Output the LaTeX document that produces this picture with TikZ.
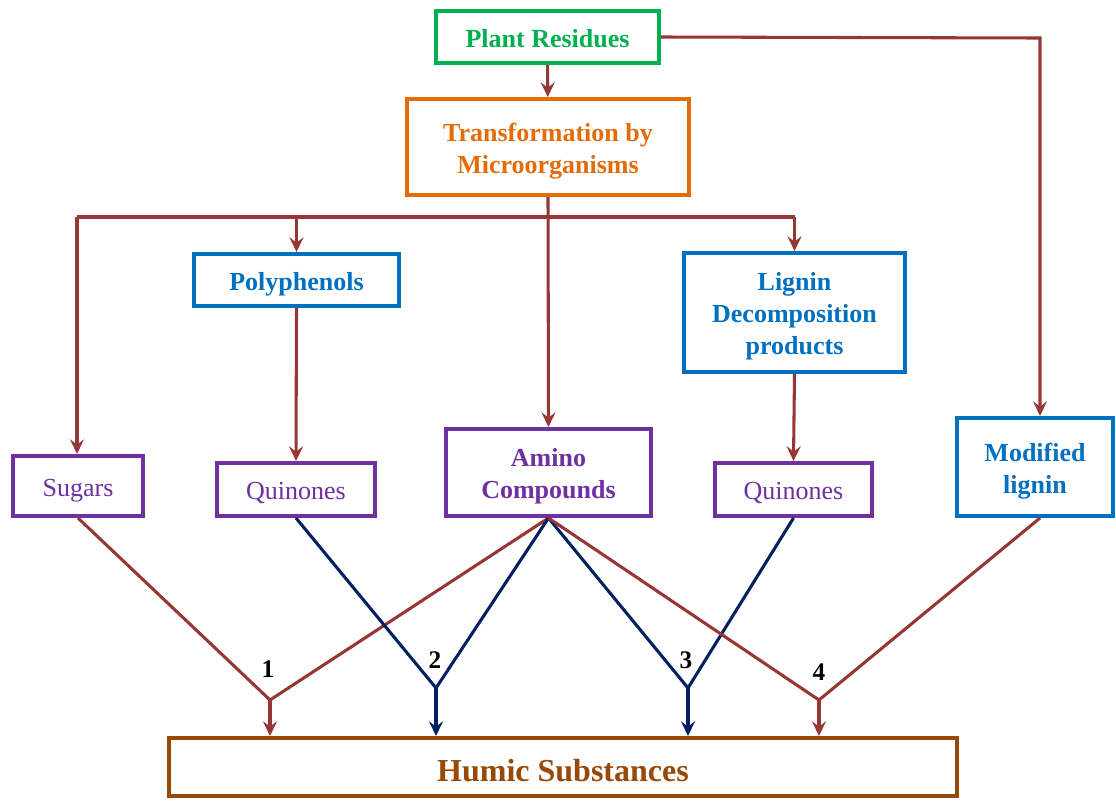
\documentclass[tikz,border=0pt]{standalone}
\usepackage{fontspec}
\setmainfont{Liberation Serif}
\usetikzlibrary{arrows.meta}
\definecolor{cgreen}{HTML}{00B050}
\definecolor{corange}{HTML}{E36C09}
\definecolor{cblue}{HTML}{0070C0}
\definecolor{cpurple}{HTML}{7030A0}
\definecolor{cbrown}{HTML}{953735}
\definecolor{cnavy}{HTML}{002060}
\definecolor{chumic}{HTML}{984807}
\tikzset{
  box/.style={draw=#1, text=#1, line width=3pt, fill=white, inner sep=0pt, align=center,
    font=\bfseries\fontsize{19.5}{24}\selectfont, text height=15.6pt, text depth=0pt},
  lbox/.style={box=#1, font=\fontsize{19.5}{24}\selectfont},
  twoline/.style={text height=39.6pt},
  threeline/.style={text height=63.6pt},
  conn/.style={line width=2.3pt, draw=cbrown},
  nconn/.style={line width=2.3pt, draw=cnavy},
  arr/.style={-{Stealth[length=11pt,width=10.5pt,inset=4pt]}},
  num/.style={font=\bfseries\fontsize{19}{22}\selectfont, inner sep=0pt, text=black}
}
\begin{document}
\begin{tikzpicture}[x=0.75pt,y=-0.75pt]
\useasboundingbox (0,0) rectangle (1116,800);
% boxes
\node[box=cgreen, minimum width=223*0.75pt, minimum height=52*0.75pt] (plant) at (547.5,37) {Plant Residues};
\node[box=corange, twoline, minimum width=282*0.75pt, minimum height=96*0.75pt] (trans) at (548,147) {Transformation by\\Microorganisms};
\node[box=cblue, minimum width=205*0.75pt, minimum height=52*0.75pt] (poly) at (296.5,280) {Polyphenols};
\node[box=cblue, threeline, minimum width=221*0.75pt, minimum height=119*0.75pt] (lignin) at (794.5,312.5) {Lignin\\Decomposition\\products};
\node[box=cblue, twoline, minimum width=156*0.75pt, minimum height=98*0.75pt] (modlig) at (1035,467) {Modified\\lignin};
\node[lbox=cpurple, minimum width=130*0.75pt, minimum height=60*0.75pt] (sugars) at (78,486) {Sugars};
\node[lbox=cpurple, minimum width=158*0.75pt, minimum height=53*0.75pt] (quin1) at (296,489.5) {Quinones};
\node[box=cpurple, twoline, minimum width=205*0.75pt, minimum height=87*0.75pt] (amino) at (548.5,472.5) {Amino\\Compounds};
\node[lbox=cpurple, minimum width=157*0.75pt, minimum height=53*0.75pt] (quin2) at (793.5,489.5) {Quinones};
\node[box=chumic, minimum width=788*0.75pt, minimum height=58*0.75pt, font=\bfseries\fontsize{24}{28}\selectfont, text height=21.5pt] (humic) at (563,767) {Humic Substances};
% coordinates
\coordinate (barL) at (77,217);
\coordinate (barP) at (296.5,217);
\coordinate (barR) at (794.5,217);
\coordinate (corner) at (1040,38);
\coordinate (j1) at (270,700);
\coordinate (j2) at (436,688);
\coordinate (j3) at (688,688);
\coordinate (j4) at (819,700);
% top connectors
\draw[conn, arr] (plant) -- (trans);
\draw[conn, arr] (plant.east) -- (corner) -- (modlig.north -| corner);
\draw[conn] (barL) -- (barR);
\draw[conn, arr] (trans.south) -- (amino.north);
\draw[conn, arr] (barL) -- (sugars.north -| barL);
\draw[conn, arr] (barP) -- (poly.north);
\draw[conn, arr] (barR) -- (lignin.north);
\draw[conn, arr] (poly.south) -- (quin1.north);
\draw[conn, arr] (lignin.south) -- (quin2.north);
% bottom connectors
\draw[conn] (sugars.south) -- (j1);
\draw[conn] (amino.south) -- (j1);
\draw[conn, arr] (j1) -- (humic.north -| j1);
\draw[nconn] (quin1.south) -- (j2);
\draw[nconn] (amino.south) -- (j2);
\draw[nconn, arr] (j2) -- (humic.north -| j2);
\draw[nconn] (amino.south) -- (j3);
\draw[nconn] (quin2.south) -- (j3);
\draw[nconn, arr] (j3) -- (humic.north -| j3);
\draw[conn] (amino.south) -- (j4);
\draw[conn] (modlig.south -| corner) -- (j4);
\draw[conn, arr] (j4) -- (humic.north -| j4);
% labels
\node[num] (n1) at (268,669) {1};
\node[num] (n2) at (435,660) {2};
\node[num] (n3) at (686,660) {3};
\node[num] (n4) at (819,672) {4};
\end{tikzpicture}
\end{document}
